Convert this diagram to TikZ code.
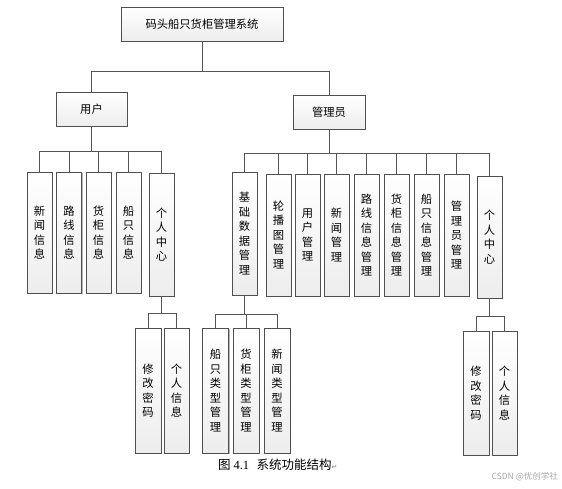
\documentclass[tikz,border=0pt]{standalone}
\usepackage{fontspec}
\newfontfamily\cjk{Noto Sans CJK SC}
\newfontfamily\dejavu{DejaVu Sans}
\newfontfamily\lserif{Liberation Serif}
\usetikzlibrary{shadows}
\definecolor{boxline}{RGB}{80,80,80}
\definecolor{conn}{RGB}{85,85,85}
\tikzset{
  box/.style={draw=boxline, line width=0.9pt, top color=white, bottom color=gray!14,
    drop shadow={shadow xshift=1.3pt, shadow yshift=-1.3pt, fill=gray!65, opacity=0.9},
    inner sep=0pt, align=center, font=\cjk\fontsize{11.3}{14.5}\selectfont},
  hbox/.style={box, minimum height=34pt},
  vbox/.style={box, minimum width=25pt},
  conline/.style={draw=conn, line width=0.9pt},
}
\begin{document}
\begin{tikzpicture}[x=1pt,y=-1pt]
\useasboundingbox (0,0) rectangle (562,488);
% level 0, 1
\node[hbox, minimum width=162pt] (root) at (202,24) {码头船只货柜管理系统};
\node[hbox, minimum width=71pt] (user) at (91.5,109) {用户};
\node[hbox, minimum width=72pt] (admin) at (329,112) {管理员};
% user children
\node[vbox, minimum height=121pt] (u1) at (39.5,232.5) {新\\闻\\信\\息};
\node[vbox, minimum height=121pt] (u2) at (69,232.5) {路\\线\\信\\息};
\node[vbox, minimum height=121pt] (u3) at (98.5,232.5) {货\\柜\\信\\息};
\node[vbox, minimum height=121pt] (u4) at (128.5,232.5) {船\\只\\信\\息};
\node[vbox, minimum height=123pt] (u5) at (161.5,234.5) {个\\人\\中\\心};
% admin children
\node[vbox, minimum height=123pt] (a1) at (244.5,233.5) {基\\础\\数\\据\\管\\理};
\node[vbox, minimum height=122pt] (a2) at (278.5,235) {轮\\播\\图\\管\\理};
\node[vbox, minimum height=122pt] (a3) at (307.5,235) {用\\户\\管\\理};
\node[vbox, minimum height=122pt] (a4) at (336.5,235) {新\\闻\\管\\理};
\node[vbox, minimum height=122pt] (a5) at (366.5,235) {路\\线\\信\\息\\管\\理};
\node[vbox, minimum height=122pt] (a6) at (396.5,235) {货\\柜\\信\\息\\管\\理};
\node[vbox, minimum height=122pt] (a7) at (426.5,235) {船\\只\\信\\息\\管\\理};
\node[vbox, minimum height=122pt] (a8) at (456.5,235) {管\\理\\员\\管\\理};
\node[vbox, minimum height=122pt] (a9) at (489.5,237) {个\\人\\中\\心};
% level 3
\node[vbox, minimum width=26pt, minimum height=125pt] (u51) at (148,390.5) {修\\改\\密\\码};
\node[vbox, minimum height=125pt] (u52) at (176.5,390.5) {个\\人\\信\\息};
\node[vbox, minimum width=26pt, minimum height=125pt] (a11) at (215.5,390.5) {船\\只\\类\\型\\管\\理};
\node[vbox, minimum width=26pt, minimum height=125pt] (a12) at (246,390.5) {货\\柜\\类\\型\\管\\理};
\node[vbox, minimum width=26pt, minimum height=125pt] (a13) at (277,390.5) {新\\闻\\类\\型\\管\\理};
\node[vbox, minimum width=26pt, minimum height=124pt] (a91) at (476,393) {修\\改\\密\\码};
\node[vbox, minimum height=124pt] (a92) at (504.5,393) {个\\人\\信\\息};
% connectors
\draw[conline] (root.south) -- (root.south |- 0,71) -| (user.north);
\draw[conline] (root.south |- 0,71) -| (admin.north);
\foreach \k in {u1,u2,u3,u4,u5}{
  \draw[conline] (user.south) -- (user.south |- 0,151) -| (\k.north);
}
\foreach \k in {a1,a2,a3,a4,a5,a6,a7,a8,a9}{
  \draw[conline] (admin.south) -- (admin.south |- 0,153) -| (\k.north);
}
\foreach \k in {u51,u52}{
  \draw[conline] (u5.south) -- (u5.south |- 0,313) -| (\k.north);
}
\foreach \k in {a11,a12,a13}{
  \draw[conline] (a1.south) -- (a1.south |- 0,314) -| (\k.north);
}
\foreach \k in {a91,a92}{
  \draw[conline] (a9.south) -- (a9.south |- 0,316) -| (\k.north);
}
% caption
\node[anchor=west, inner sep=0pt, font=\cjk\fontsize{12.5}{14}\selectfont] (cap) at (218,465) {图 {\lserif 4.1}\hspace{0.6em}系统功能结构{\dejavu\fontsize{7}{8}\selectfont\color{gray}↵}};
\node[anchor=east, inner sep=0pt, text=gray!70, font=\cjk\fontsize{8.5}{10}\selectfont] (wm) at (558,477) {CSDN @优创学社};
\end{tikzpicture}
\end{document}
